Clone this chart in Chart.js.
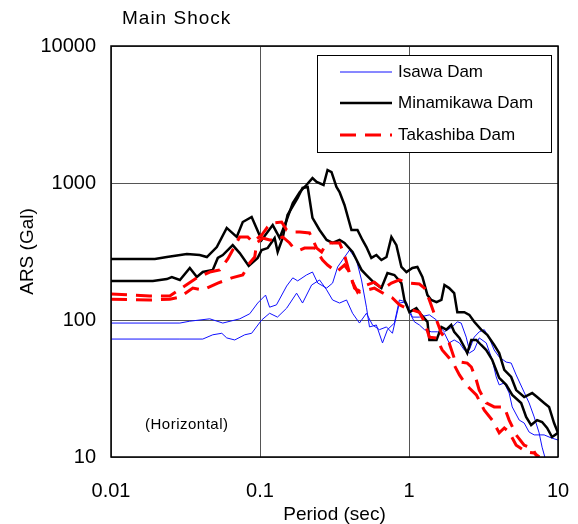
<!DOCTYPE html>
<html>
<head>
<meta charset="utf-8">
<script src="https://cdn.jsdelivr.net/npm/chart.js@4.4.1/dist/chart.umd.min.js"></script>
<style>
  html, body { margin: 0; padding: 0; background: #fff; }
</style>
</head>
<body>
<canvas id="arsChart" width="578" height="524"></canvas>
<script>
// [period (sec), ARS (Gal)] pairs, two horizontal components per dam
const isawaA = [[0.01,95],[0.029,95],[0.0338,98],[0.046,102],[0.0563,95],[0.0731,102],[0.0853,111],[0.0965,133],[0.109,152],[0.116,124],[0.129,129],[0.151,177],[0.166,203],[0.179,193],[0.205,213],[0.225,224],[0.244,186],[0.28,171],[0.307,186],[0.332,244],[0.358,274],[0.399,324],[0.444,274],[0.48,196],[0.518,124],[0.543,89],[0.604,92],[0.664,68],[0.717,85],[0.798,95],[0.862,140],[0.961,135],[1.054,105],[1.174,105],[1.37,109],[1.53,100],[1.6,89],[1.73,82],[1.95,89],[2.11,97],[2.24,95],[2.42,75],[2.54,60.4],[2.74,75],[2.96,82],[3.2,85],[3.45,74],[3.73,60.4],[4.03,53.7],[4.49,49.3],[4.85,48.5],[5.24,39.7],[5.75,31.9],[6.4,24.8],[6.92,19.6],[7.47,15],[7.82,11.8],[8.2,9.8]];
const isawaB = [[0.01,72.6],[0.029,72.6],[0.0413,72.6],[0.0482,78],[0.0554,80],[0.0598,74],[0.0677,71.5],[0.079,78],[0.0879,80],[0.1026,100],[0.116,112],[0.131,105],[0.151,122],[0.176,157],[0.193,133],[0.222,180],[0.251,196],[0.28,166],[0.307,140],[0.342,133],[0.381,140],[0.418,112],[0.465,95],[0.518,112],[0.569,92],[0.633,85],[0.706,89],[0.774,80],[0.862,133],[0.932,135],[1.006,114],[1.087,97],[1.174,92],[1.27,85],[1.41,82],[1.55,82],[1.73,80],[1.86,68],[2.01,71.5],[2.18,68],[2.35,60.4],[2.54,57.4],[2.74,60.4],[2.96,74],[3.3,68],[3.62,51.1],[3.85,38.4],[4.03,33.6],[4.36,34.7],[4.7,29.3],[4.93,23.2],[5.49,18.6],[5.93,17.7],[6.4,15.2],[6.92,14.5],[8.07,14.5],[8.99,13.8],[10,13.3]];
const minamikawaA = [[0.01,279],[0.0197,279],[0.0237,288],[0.0323,303],[0.0394,298],[0.044,288],[0.0513,341],[0.0598,470],[0.0698,404],[0.0766,519],[0.0879,565],[0.1026,384],[0.1217,493],[0.1355,397],[0.151,537],[0.166,715],[0.185,860],[0.205,967],[0.225,1086],[0.24,1017],[0.267,967],[0.284,1245],[0.302,1202],[0.326,935],[0.342,860],[0.369,691],[0.411,454],[0.451,454],[0.487,384],[0.518,341],[0.559,284],[0.604,298],[0.653,274],[0.706,288],[0.762,404],[0.823,352],[0.889,244],[0.961,224],[1.054,240],[1.138,244],[1.23,206],[1.33,152],[1.41,140],[1.53,135],[1.65,140],[1.73,180],[1.86,171],[2.01,157],[2.11,114],[2.35,114],[2.54,109],[2.74,97],[3.05,85],[3.35,78],[3.73,65.7],[4.03,57.4],[4.36,43.2],[4.85,38.4],[5.24,30.8],[5.93,27.4],[6.71,29.3],[7.24,27.4],[8.07,24.8],[8.71,23.2],[9.41,17.7],[10,15]];
const minamikawaB = [[0.01,193],[0.0191,193],[0.0237,199],[0.0256,206],[0.029,196],[0.0338,240],[0.0377,206],[0.0413,224],[0.0482,232],[0.0521,284],[0.0563,298],[0.0656,352],[0.0731,308],[0.084,248],[0.0965,284],[0.1026,324],[0.1126,335],[0.1254,397],[0.1314,314],[0.142,397],[0.153,584],[0.179,778],[0.193,920],[0.209,935],[0.225,556],[0.251,454],[0.28,384],[0.307,365],[0.342,384],[0.369,365],[0.418,314],[0.48,232],[0.518,213],[0.586,186],[0.653,171],[0.717,220],[0.798,213],[0.889,186],[0.932,140],[1.006,114],[1.121,122],[1.21,109],[1.33,97],[1.37,71.5],[1.53,71.5],[1.65,89],[1.78,85],[1.92,92],[2.01,82],[2.18,74],[2.35,63.5],[2.46,57.4],[2.62,71.5],[2.83,71.5],[3.05,65.7],[3.3,60.4],[3.62,51.1],[4.03,37.8],[4.49,33.6],[4.93,28.4],[5.66,24.8],[6.11,19.6],[6.6,17.1],[7.24,18.6],[7.82,18],[8.45,16.3],[9.12,14],[10,15]];
const takashibaA = [[0.01,155],[0.0182,150],[0.0248,150],[0.029,168],[0.0377,203],[0.046,224],[0.0537,232],[0.058,260],[0.0608,279],[0.0656,324],[0.0731,404],[0.0827,404],[0.0893,371],[0.1026,417],[0.1126,478],[0.1217,511],[0.1397,519],[0.151,454],[0.166,439],[0.185,439],[0.215,432],[0.24,335],[0.259,314],[0.28,365],[0.342,365],[0.369,298],[0.411,196],[0.451,160],[0.48,174],[0.518,180],[0.586,189],[0.664,168],[0.762,186],[0.862,196],[1.006,186],[1.174,183],[1.27,171],[1.37,140],[1.53,100],[1.65,80],[1.86,68],[2.01,52.8],[2.24,49.3],[2.46,48.5],[2.62,45.4],[2.83,36.5],[2.96,30.8],[3.3,24.8],[3.73,23.2],[4.36,23.2],[4.7,18.6],[5.24,14.5],[5.93,12.2],[6.71,11.6],[7.13,10.3],[7.47,10]];
const takashibaB = [[0.01,142],[0.0182,140],[0.0248,142],[0.029,147],[0.0354,171],[0.0413,166],[0.0521,186],[0.0646,203],[0.0766,213],[0.0853,261],[0.0922,288],[0.095,365],[0.1042,397],[0.1161,384],[0.1294,384],[0.142,404],[0.158,365],[0.166,341],[0.185,324],[0.199,335],[0.233,335],[0.263,274],[0.284,252],[0.326,224],[0.369,252],[0.399,224],[0.431,171],[0.465,160],[0.586,171],[0.706,152],[0.774,145],[0.862,129],[0.961,122],[1.174,114],[1.27,97],[1.37,75],[1.53,74],[1.67,60.4],[1.86,52.8],[2.01,47],[2.18,39.7],[2.35,35.2],[2.54,31.9],[2.83,28.4],[3.2,22],[3.62,18.6],[4.03,15],[4.36,16.3],[4.7,15.2],[5.24,12.2],[6.11,10.9],[6.92,10.7],[7.47,10]];

const damNames = ["Isawa Dam", "Minamikawa Dam", "Takashiba Dam"];
const xTicks = [0.01, 0.1, 1, 10];
const yTicks = [10, 100, 1000, 10000];

const blue = "#1010ff";
const red = "#ff0000";
const textFont = "'Liberation Sans', Arial, sans-serif";

function toPoints(pairs) {
  return pairs.map((p) => ({ x: p[0], y: p[1] }));
}

function lineSet(label, pairs, color, width, dash, order) {
  return {
    label: label,
    data: toPoints(pairs),
    borderColor: color,
    borderWidth: width,
    borderDash: dash,
    showLine: true,
    pointRadius: 0,
    tension: 0,
    fill: false,
    clip: 0,
    order: order,
  };
}

// frame, title, note and the boxed legend
const decorations = {
  id: "decorations",
  afterDraw(chart) {
    const ctx = chart.ctx;
    const a = chart.chartArea;
    ctx.save();
    ctx.strokeStyle = "#000";
    ctx.lineWidth = 1.5;
    ctx.strokeRect(a.left, a.top, a.right - a.left, a.bottom - a.top);

    ctx.fillStyle = "#000";
    ctx.textBaseline = "middle";
    ctx.letterSpacing = "1px";
    ctx.font = "19px " + textFont;
    ctx.fillText("Main Shock", 122, 19);
    ctx.letterSpacing = "0.5px";
    ctx.font = "15px " + textFont;
    ctx.fillText("(Horizontal)", 145, 425);
    ctx.letterSpacing = "0px";

    // legend box
    ctx.fillStyle = "#fff";
    ctx.fillRect(317, 55, 234, 97);
    ctx.lineWidth = 1;
    ctx.strokeStyle = "#000";
    ctx.strokeRect(317.5, 55.5, 234, 97);
    const rows = [72, 103, 135];
    const styles = [
      { color: blue, width: 1, dash: [] },
      { color: "#000", width: 2.5, dash: [] },
      { color: red, width: 3, dash: [16, 9] },
    ];
    damNames.forEach((name, i) => {
      const s = styles[i];
      ctx.beginPath();
      ctx.strokeStyle = s.color;
      ctx.lineWidth = s.width;
      ctx.setLineDash(s.dash);
      ctx.moveTo(340, rows[i]);
      ctx.lineTo(392, rows[i]);
      ctx.stroke();
      ctx.setLineDash([]);
      ctx.fillStyle = "#000";
      ctx.font = "17px " + textFont;
      ctx.fillText(name, 398, rows[i]);
    });
    ctx.restore();
  },
};

new Chart(document.getElementById("arsChart"), {
  type: "scatter",
  data: {
    datasets: [
      lineSet(damNames[0], isawaA, blue, 1, [], 3),
      lineSet(damNames[0], isawaB, blue, 1, [], 3),
      lineSet(damNames[1], minamikawaA, "#000", 2.5, [], 2),
      lineSet(damNames[1], minamikawaB, "#000", 2.5, [], 2),
      lineSet(damNames[2], takashibaA, red, 3, [16, 9], 1),
      lineSet(damNames[2], takashibaB, red, 3, [16, 9], 1),
    ],
  },
  options: {
    responsive: false,
    animation: false,
    devicePixelRatio: 1,
    layout: { padding: { left: 0, right: 20, top: 46, bottom: 0 } },
    plugins: {
      legend: { display: false },
      tooltip: { enabled: false },
    },
    scales: {
      x: {
        type: "logarithmic",
        min: 0.01,
        max: 10,
        afterBuildTicks: (scale) => {
          scale.ticks = xTicks.map((v) => ({ value: v }));
        },
        afterFit: (scale) => {
          scale.height = 67;
          scale.paddingLeft = 0;
          scale.paddingRight = 0;
        },
        ticks: {
          callback: (v) => String(v),
          color: "#000",
          font: { size: 20, family: textFont },
          padding: 22,
          maxRotation: 0,
          autoSkip: false,
        },
        grid: { color: "#555", lineWidth: 1, drawTicks: false },
        border: { display: false },
        title: {
          display: true,
          text: "Period (sec)",
          color: "#000",
          font: { size: 19, family: textFont, lineHeight: 1 },
          padding: { top: 0, bottom: 0 },
        },
      },
      y: {
        type: "logarithmic",
        min: 10,
        max: 10000,
        afterBuildTicks: (scale) => {
          scale.ticks = yTicks.map((v) => ({ value: v }));
        },
        afterFit: (scale) => {
          scale.width = 111;
        },
        ticks: {
          callback: (v) => String(v),
          color: "#000",
          font: { size: 20, family: textFont },
          padding: 15,
          autoSkip: false,
        },
        grid: { color: "#555", lineWidth: 1, drawTicks: false },
        border: { display: false },
        title: {
          display: true,
          text: "ARS (Gal)",
          color: "#000",
          font: { size: 19, family: textFont, lineHeight: 1 },
          padding: { top: 18, bottom: 0 },
        },
      },
    },
  },
  plugins: [decorations],
});
</script>
</body>
</html>
